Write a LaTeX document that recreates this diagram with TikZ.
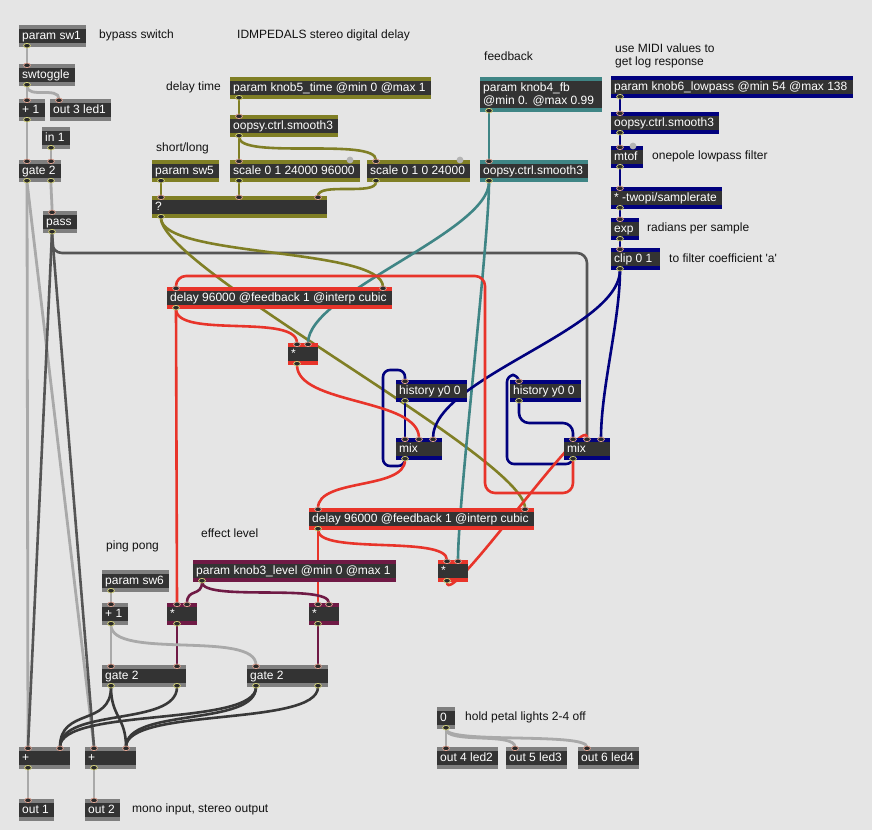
\documentclass[tikz,border=0pt]{standalone}
\usepackage{fontspec}
\setmainfont{Liberation Sans}
\usetikzlibrary{calc}
\pgfdeclarelayer{bglayer}
\pgfdeclarelayer{cables}
\pgfsetlayers{bglayer,cables,main}
\definecolor{bgc}{HTML}{E5E5E5}
\definecolor{objdark}{HTML}{333333}
\definecolor{sgray}{HTML}{7F7F7F}
\definecolor{solive}{HTML}{807F25}
\definecolor{steal}{HTML}{3F8585}
\definecolor{snavy}{HTML}{01017E}
\definecolor{sred}{HTML}{E8342A}
\definecolor{smaroon}{HTML}{6F1A45}
\definecolor{cablegray}{HTML}{A9A9A9}
\definecolor{cabledk}{HTML}{383838}
\definecolor{cablepass}{HTML}{555555}
\definecolor{pinin}{HTML}{E3A593}
\definecolor{pinout}{HTML}{D9D77A}
\definecolor{pindark}{HTML}{2A2A2A}
\definecolor{dotgray}{HTML}{B4B4B4}
\definecolor{cmt}{HTML}{111111}
\newcommand\mobj[6]{%
  \node[objbox,fill=#1,minimum width=#5pt] (#2) at (#3,#4) {};
  \fill[objdark] ([yshift=-4pt]#2.north west) rectangle ([yshift=4pt]#2.south east);
  \node[objtext] at ([xshift=3pt]#2.west) {#6};}
\newcommand\pinI[3]{\coordinate (#1) at ([xshift=#3pt]#2.north west);
  \filldraw[fill=pindark,draw=pinin,line width=0.7pt] ([yshift=-1.3pt]#1) ellipse (3.4pt and 2.3pt);}
\newcommand\pinO[3]{\coordinate (#1) at ([xshift=#3pt]#2.south west);
  \filldraw[fill=pindark,draw=pinout,line width=0.7pt] ([yshift=1.3pt]#1) ellipse (3.4pt and 2.3pt);}
\newcommand\cab[4]{\draw[#1] (#2) .. controls +(0,#4) and +(0,-#4) .. (#3);}
\begin{document}
\begin{tikzpicture}[x=1pt,y=-1pt,
  objbox/.style={rectangle,inner sep=0pt,outer sep=0pt,anchor=north west,minimum height=22pt},
  objtext/.style={anchor=west,inner sep=0pt,text=white,font=\fontsize{12}{14}\selectfont,text height=9pt,text depth=2.5pt},
  cmtext/.style={anchor=west,inner sep=0pt,text=cmt,font=\fontsize{12}{14}\selectfont,text height=9pt,text depth=2.5pt},
  cable/.style={line width=2.6pt,line cap=round},
  cgray/.style={cable,draw=cablegray,line width=2.8pt},
  cdk/.style={cable,draw=cabledk},
  cpass/.style={cable,draw=cablepass},
  colive/.style={cable,draw=solive},
  cteal/.style={cable,draw=steal},
  cnavy/.style={cable,draw=snavy},
  cred/.style={cable,draw=sred},
  cmaroon/.style={cable,draw=smaroon}]
\useasboundingbox (0,0) rectangle (872,830);
\begin{pgfonlayer}{bglayer}
\fill[bgc] (0,0) rectangle (872,830);
\end{pgfonlayer}

% ---- gray top-left chain
\mobj{sgray}{sw1}{19}{25}{67}{param sw1}
\pinO{sw1o}{sw1}{8}
\mobj{sgray}{tog}{19}{64}{56}{swtoggle}
\pinI{togi}{tog}{8}\pinO{togo}{tog}{8}
\mobj{sgray}{pa}{19}{99}{26}{+ 1}
\pinI{pai}{pa}{8}\pinO{pao}{pa}{8}
\mobj{sgray}{ledA}{50}{99}{61}{out 3 led1}
\pinI{ledAi}{ledA}{9}
\mobj{sgray}{inA}{42}{127}{28}{in 1}
\pinO{inAo}{inA}{9}
\mobj{sgray}{gA}{19}{160}{42}{gate 2}
\pinI{gAi1}{gA}{8}\pinI{gAi2}{gA}{32}\pinO{gAo1}{gA}{8}\pinO{gAo2}{gA}{32}
\mobj{sgray}{pass}{43}{211}{34}{pass}
\pinI{passi}{pass}{9}\pinO{passo}{pass}{9}

% ---- olive delay time
\mobj{solive}{kfive}{230}{77}{201}{param knob5\_time @min 0 @max 1}
\pinO{kfiveo}{kfive}{9}
\mobj{solive}{smA}{230}{115}{108}{oopsy.ctrl.smooth3}
\pinI{smAi}{smA}{9}\pinO{smAo}{smA}{9}
\mobj{solive}{swfive}{152}{160}{67}{param sw5}
\pinO{swfiveo}{swfive}{9}
\mobj{solive}{scA}{230}{160}{130}{scale 0 1 24000 96000}
\pinI{scAi}{scA}{9}\pinO{scAo}{scA}{9}
\fill[dotgray] ([xshift=-10pt]scA.north east) circle (3.4pt);
\mobj{solive}{scB}{367}{160}{103}{scale 0 1 0 24000}
\pinI{scBi}{scB}{9}\pinO{scBo}{scB}{9}
\fill[dotgray] ([xshift=-10pt]scB.north east) circle (3.4pt);
\mobj{solive}{qq}{152}{196}{175}{?}
\pinI{qqi1}{qq}{9}\pinI{qqi2}{qq}{87}\pinI{qqi3}{qq}{166}\pinO{qqo}{qq}{9}

% ---- teal feedback
\node[objbox,fill=steal,minimum width=122pt,minimum height=35pt] (kfour) at (480,77) {};
\fill[objdark] ([yshift=-4pt]kfour.north west) rectangle ([yshift=4pt]kfour.south east);
\node[objtext] at (483,88) {param knob4\_fb};
\node[objtext] at (483,101) {@min 0. @max 0.99};
\pinO{kfouro}{kfour}{9}
\mobj{steal}{smB}{480}{160}{108}{oopsy.ctrl.smooth3}
\pinI{smBi}{smB}{9}\pinO{smBo}{smB}{9}

% ---- navy lowpass
\mobj{snavy}{ksix}{611}{76}{242}{param knob6\_lowpass @min 54 @max 138}
\pinO{ksixo}{ksix}{9}
\mobj{snavy}{smC}{611}{112}{108}{oopsy.ctrl.smooth3}
\pinI{smCi}{smC}{9}\pinO{smCo}{smC}{9}
\mobj{snavy}{mtof}{611}{146}{32}{mtof}
\pinI{mtofi}{mtof}{9}\pinO{mtofo}{mtof}{9}
\fill[dotgray] ([xshift=-10pt]mtof.north east) circle (3.4pt);
\mobj{snavy}{tw}{611}{187}{111}{* -twopi/samplerate}
\pinI{twi}{tw}{9}\pinO{two}{tw}{9}
\mobj{snavy}{expo}{611}{218}{28}{exp}
\pinI{expoi}{expo}{9}\pinO{expoo}{expo}{9}
\mobj{snavy}{clip}{611}{248}{49}{clip 0 1}
\pinI{clipi}{clip}{9}\pinO{clipo}{clip}{9}
\mobj{snavy}{hA}{396}{380}{71}{history y0 0}
\pinI{hAi}{hA}{9}\pinO{hAo}{hA}{9}
\mobj{snavy}{mixA}{396}{438}{46}{mix}
\pinI{mixAi1}{mixA}{9}\pinI{mixAi2}{mixA}{23}\pinI{mixAi3}{mixA}{37}\pinO{mixAo}{mixA}{9}
\mobj{snavy}{hB}{510}{380}{71}{history y0 0}
\pinI{hBi}{hB}{9}\pinO{hBo}{hB}{9}
\mobj{snavy}{mixB}{564}{438}{46}{mix}
\pinI{mixBi1}{mixB}{9}\pinI{mixBi2}{mixB}{23}\pinI{mixBi3}{mixB}{37}\pinO{mixBo}{mixB}{9}

% ---- red delays
\mobj{sred}{delA}{167}{287}{225}{delay 96000 @feedback 1 @interp cubic}
\pinI{delAi1}{delA}{9}\pinI{delAi2}{delA}{216}\pinO{delAo}{delA}{9}
\mobj{sred}{mulA}{288}{343}{30}{*}
\pinI{mulAi1}{mulA}{9}\pinI{mulAi2}{mulA}{20}\pinO{mulAo}{mulA}{9}
\mobj{sred}{delB}{309}{508}{225}{delay 96000 @feedback 1 @interp cubic}
\pinI{delBi1}{delB}{9}\pinI{delBi2}{delB}{216}\pinO{delBo}{delB}{9}
\mobj{sred}{mulB}{438}{560}{30}{*}
\pinI{mulBi1}{mulB}{9}\pinI{mulBi2}{mulB}{20}\pinO{mulBo}{mulB}{9}

% ---- maroon level
\mobj{smaroon}{kthree}{193}{560}{203}{param knob3\_level @min 0 @max 1}
\pinO{kthreeo}{kthree}{9}
\mobj{smaroon}{mulC}{167}{603}{30}{*}
\pinI{mulCi1}{mulC}{10}\pinI{mulCi2}{mulC}{20}\pinO{mulCo}{mulC}{10}
\mobj{smaroon}{mulD}{309}{603}{30}{*}
\pinI{mulDi1}{mulD}{9}\pinI{mulDi2}{mulD}{20}\pinO{mulDo}{mulD}{9}

% ---- gray bottom
\mobj{sgray}{swsix}{102}{570}{67}{param sw6}
\pinO{swsixo}{swsix}{9}
\mobj{sgray}{pb}{102}{603}{26}{+ 1}
\pinI{pbi}{pb}{9}\pinO{pbo}{pb}{9}
\mobj{sgray}{gB}{102}{665}{84}{gate 2}
\pinI{gBi1}{gB}{9}\pinI{gBi2}{gB}{75}\pinO{gBo1}{gB}{9}\pinO{gBo2}{gB}{75}
\mobj{sgray}{gC}{247}{665}{81}{gate 2}
\pinI{gCi1}{gC}{9}\pinI{gCi2}{gC}{71}\pinO{gCo1}{gC}{9}\pinO{gCo2}{gC}{71}
\mobj{sgray}{addA}{19}{747}{51}{+}
\pinI{addAi1}{addA}{9}\pinI{addAi2}{addA}{41}\pinO{addAo}{addA}{9}
\mobj{sgray}{addB}{85}{747}{51}{+}
\pinI{addBi1}{addB}{9}\pinI{addBi2}{addB}{41}\pinO{addBo}{addB}{9}
\mobj{sgray}{outA}{19}{799}{35}{out 1}
\pinI{outAi}{outA}{9}
\mobj{sgray}{outB}{85}{799}{35}{out 2}
\pinI{outBi}{outB}{9}
\mobj{sgray}{zero}{437}{707}{18}{0}
\pinO{zeroo}{zero}{9}
\mobj{sgray}{ledB}{437}{747}{61}{out 4 led2}
\pinI{ledBi}{ledB}{9}
\mobj{sgray}{ledC}{506}{747}{61}{out 5 led3}
\pinI{ledCi}{ledC}{9}
\mobj{sgray}{ledD}{578}{747}{61}{out 6 led4}
\pinI{ledDi}{ledD}{9}

% ---- cables
\begin{pgfonlayer}{cables}
\cab{cgray}{sw1o}{togi}{8}
\cab{cgray}{togo}{pai}{6}
\cab{cgray}{togo}{ledAi}{13}
\cab{cgray}{pao}{gAi1}{10}
\cab{cgray}{inAo}{gAi2}{5}
\draw[cgray] (gAo1) -- (addAi1);
\draw[cgray] (gAo1) -- (addBi1);
\cab{cgray}{gAo2}{passi}{10}
\draw[cpass] (passo) -- (addAi1);
\draw[cpass] (passo) -- (addBi1);
\draw[cpass,rounded corners=10pt] (passo) -- ++(0,20) -| (mixBi2);
% olive
\cab{colive}{kfiveo}{smAi}{8}
\cab{colive}{smAo}{scAi}{10}
\cab{colive}{smAo}{scBi}{23}
\cab{colive}{swfiveo}{qqi1}{5}
\cab{colive}{scAo}{qqi2}{5}
\cab{colive}{scBo}{qqi3}{14}
\cab{colive}{qqo}{delAi2}{40}
\cab{colive}{qqo}{delBi2}{50}
% teal
\cab{cteal}{kfouro}{smBi}{10}
\cab{cteal}{smBo}{mulAi2}{50}
\cab{cteal}{smBo}{mulBi2}{60}
% navy
\cab{cnavy}{ksixo}{smCi}{7}
\cab{cnavy}{smCo}{mtofi}{6}
\cab{cnavy}{mtofo}{twi}{8}
\cab{cnavy}{two}{expoi}{5}
\cab{cnavy}{expoo}{clipi}{5}
\cab{cnavy}{clipo}{mixAi3}{60}
\cab{cnavy}{clipo}{mixBi3}{50}
\cab{cnavy}{hAo}{mixAi1}{10}
\draw[cnavy,rounded corners=7pt] (mixAo) -- ++(0,6) -- ++(-22,0) -- ++(0,-96) -| (hAi);
\draw[cnavy,rounded corners=7pt] (mixBo) -- ++(0,4) -- ++(-66,0) -- ++(0,-89) -| (hBi);
\draw[cnavy,rounded corners=10pt] (hBo) -- ++(0,21) -| (mixBi1);
% red
\cab{cred}{delAo}{mulAi1}{30}
\draw[cred] (delAo) -- (mulCi1);
\cab{cred}{delBo}{mulBi1}{25}
\draw[cred] (delBo) -- (mulDi1);
\cab{cred}{mulAo}{mixAi2}{40}
\cab{cred}{mixAo}{delBi1}{30}
\cab{cred}{mulBo}{mixBi2}{30}
\draw[cred,rounded corners=10pt] (mixBo) -- ++(0,33) -- ++(-88,0) -- ++(0,-217) -| (delAi1);
% maroon
\cab{cmaroon}{kthreeo}{mulCi2}{15}
\cab{cmaroon}{kthreeo}{mulDi2}{20}
\cab{cmaroon}{mulCo}{gBi2}{10}
\cab{cmaroon}{mulDo}{gCi2}{10}
% gray bottom
\cab{cgray}{swsixo}{pbi}{5}
\cab{cgray}{pbo}{gBi1}{10}
\cab{cgray}{pbo}{gCi1}{35}
\cab{cgray}{addAo}{outAi}{10}
\cab{cgray}{addBo}{outBi}{10}
\cab{cgray}{zeroo}{ledBi}{8}
\cab{cgray}{zeroo}{ledCi}{15}
\cab{cgray}{zeroo}{ledDi}{15}
% dark output routing
\cab{cdk}{gBo1}{addAi2}{40}
\cab{cdk}{gBo1}{addBi2}{30}
\cab{cdk}{gBo2}{addAi2}{40}
\cab{cdk}{gCo1}{addAi2}{40}
\cab{cdk}{gCo1}{addBi2}{40}
\cab{cdk}{gCo2}{addBi2}{40}
\end{pgfonlayer}

% ---- comments
\node[cmtext] at (99,35) {bypass switch};
\node[cmtext] at (237,35) {IDMPEDALS stereo digital delay};
\node[cmtext] at (166,87) {delay time};
\node[cmtext] at (156,148) {short/long};
\node[cmtext] at (484,57) {feedback};
\node[cmtext] at (615,49) {use MIDI values to};
\node[cmtext] at (615,62) {get log response};
\node[cmtext] at (652,156) {onepole lowpass filter};
\node[cmtext] at (647,228) {radians per sample};
\node[cmtext] at (669,259) {to filter coefficient \textquotesingle a\textquotesingle};
\node[cmtext] at (201,534) {effect level};
\node[cmtext] at (106,546) {ping pong};
\node[cmtext] at (132,809) {mono input, stereo output};
\node[cmtext] at (465,717) {hold petal lights 2-4 off};
\end{tikzpicture}
\end{document}
